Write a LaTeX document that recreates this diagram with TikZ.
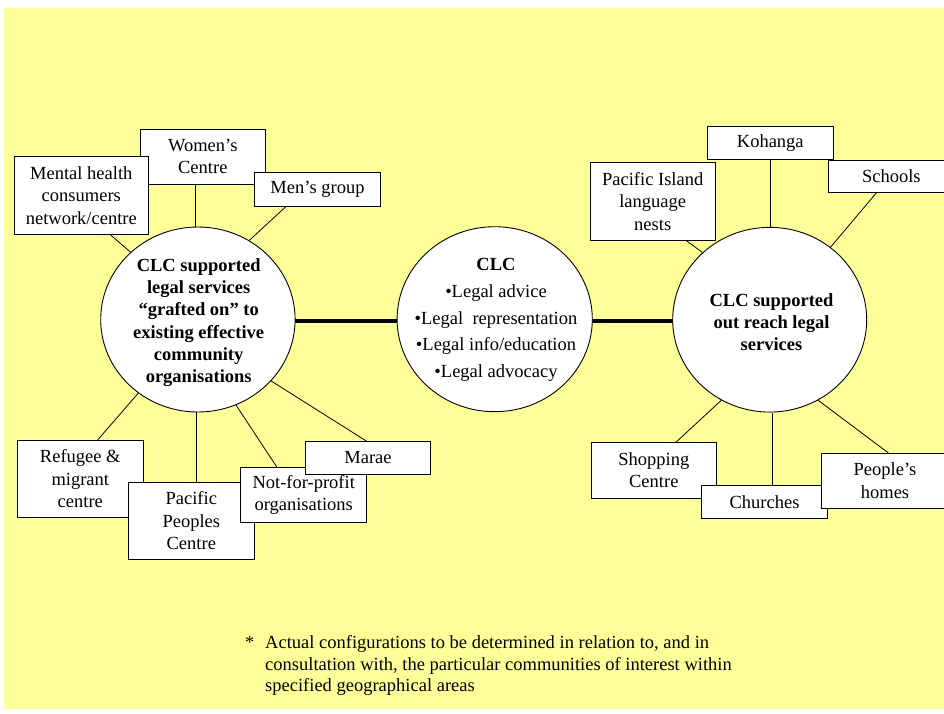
\documentclass[tikz,border=0pt]{standalone}
\usepackage{fontspec}
\setmainfont{Liberation Serif}
\usetikzlibrary{shapes.geometric,backgrounds}
\definecolor{bgyellow}{RGB}{255,255,153}
\begin{document}
\begin{tikzpicture}[x=1pt,y=-1pt,
  orgbox/.style={draw=black, line width=0.9pt, fill=white, inner sep=0pt, align=center,
    font=\fontsize{18.5}{22.3}\selectfont},
  hub/.style={draw=black, line width=0.9pt, fill=white, ellipse, inner sep=0pt},
  link/.style={draw=black, line width=0.8pt},
  bar/.style={draw=black, line width=4pt},
  hubtext/.style={align=center, inner sep=0pt, font=\fontsize{18.5}{22.3}\selectfont\bfseries},
  notetext/.style={anchor=base west, inner sep=0pt, font=\fontsize{18.5}{21.7}\selectfont},
]
\useasboundingbox (0,0) rectangle (944,713);
\begin{scope}[on background layer]
  \fill[bgyellow] (4,8) rectangle (944,709);
\end{scope}
\clip (0,0) rectangle (944,713);

% hubs
\node[hub, minimum width=194.4pt, minimum height=185pt] (L) at (197.9,319.5) {};
\node[hub, minimum width=195.2pt, minimum height=185pt] (C) at (494.7,319.2) {};
\node[hub, minimum width=194pt, minimum height=184.7pt] (R) at (769.7,319.7) {};

\node[hubtext] (ltext) at (198.7,322.5) {CLC supported\\legal services\\“grafted on” to\\existing effective\\community\\organisations};
\node[hubtext] (rtext) at (771.5,322) {CLC supported\\out reach legal\\services};
\node[align=center, inner sep=0pt, font=\fontsize{18.5}{26.7}\selectfont] (ctext) at (496,320)
  {\textbf{CLC}\\•Legal advice\\•Legal\ \ representation\\•Legal info/education\\•Legal advocacy};

% left cluster boxes
\node[orgbox, minimum width=125.7pt, minimum height=55pt] (wc) at (202.8,156.5) {Women’s\\Centre};
\node[orgbox, minimum width=134pt, minimum height=77.5pt] (mh) at (81.3,195.5) {Mental health\\consumers\\network/centre};
\node[orgbox, minimum width=126.4pt, minimum height=33.7pt] (mg) at (317.5,189.2) {Men’s group};
\node[orgbox, minimum width=126pt, minimum height=76.7pt] (rf) at (80.3,478.7) {Refugee \&\\migrant\\centre};
\node[orgbox, minimum width=126pt, minimum height=77pt] (pp) at (191.3,520.8) {Pacific\\Peoples\\Centre};
\node[orgbox, minimum width=126pt, minimum height=55pt] (nfp) at (303.7,494.8) {Not-for-profit\\organisations};
\node[orgbox, minimum width=125.4pt, minimum height=32.6pt] (ma) at (368,458) {Marae};

% right cluster boxes
\node[orgbox, minimum width=126pt, minimum height=32.6pt] (ko) at (770.3,143) {Kohanga};
\node[orgbox, minimum width=125.3pt, minimum height=77.3pt] (pi) at (652.7,201.3) {Pacific Island\\language\\nests};
\node[orgbox, minimum width=126pt, minimum height=32pt] (sc) at (891.3,176) {Schools};
\node[orgbox, minimum width=125.7pt, minimum height=55.3pt] (sh) at (653.8,470.3) {Shopping\\Centre};
\node[orgbox, minimum width=125.6pt, minimum height=33.3pt] (ch) at (764.5,501.7) {Churches};
\node[orgbox, minimum width=126.6pt, minimum height=55pt] (ph) at (885,480.8) {People’s\\homes};

% footnote
\node[notetext] (star) at (245,648.3) {*};
\node[notetext] (fn1) at (265,648.3) {Actual configurations to be determined in relation to, and in};
\node[notetext] (fn2) at (265,670) {consultation with, the particular communities of interest within};
\node[notetext] (fn3) at (265,691.7) {specified geographical areas};

% connectors
\begin{scope}[on background layer]
  \coordinate (barL) at ([yshift=-1.5pt]L.center);
  \draw[bar] (barL) -- (barL -| C.center);
  \draw[bar] (barL -| C.center) -- (barL -| R.center);
  \draw[link] ([xshift=29pt]mh.south) -- (L.135.5);
  \draw[link] ([xshift=-7pt]wc.south) -- ([xshift=-7pt]wc.south |- L.north);
  \draw[link] ([xshift=-31.5pt]mg.south) -- (L.57.7);
  \draw[link] ([xshift=17.4pt]rf.north) -- (L.231.8);
  \draw[link] ([xshift=4.7pt]pp.north) -- ([xshift=4.7pt]pp.north |- L.south);
  \draw[link] ([xshift=-27pt]nfp.north) -- (L.294.7);
  \draw[link] ([xshift=-1.3pt]ma.north) -- (L.320.2);
  \draw[link] (ko.south) -- (ko.south |- R.north);
  \draw[link] ([xshift=33.3pt]pi.south) -- (R.135);
  \draw[link] ([xshift=-14.6pt]sc.south) -- (R.50.4);
  \draw[link] ([xshift=22.2pt]sh.north) -- (R.239.1);
  \draw[link] ([xshift=7.8pt]ch.north) -- ([xshift=7.8pt]ch.north |- R.south);
  \draw[link] ([xshift=3.3pt]ph.north) -- (R.301.7);
\end{scope}
\end{tikzpicture}
\end{document}
